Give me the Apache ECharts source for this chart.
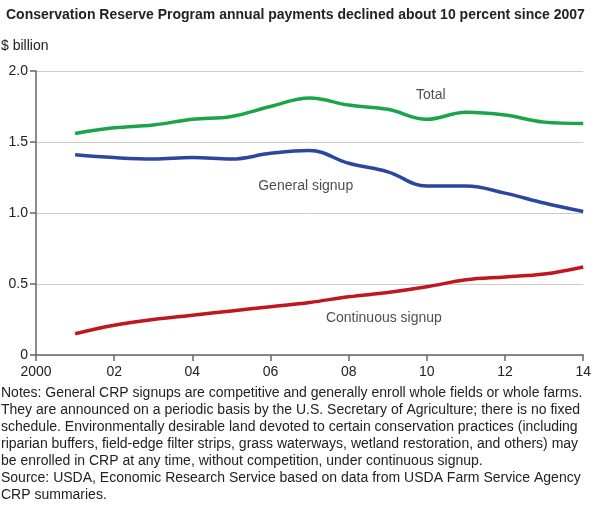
<!DOCTYPE html>
<html><head><meta charset="utf-8">
<script src="https://cdn.jsdelivr.net/npm/echarts@6/dist/echarts.min.js"></script>
<style>body{margin:0;background:#fff}#c{width:594px;height:526px}</style>
</head><body><div id="c"></div>
<script>
var years = [2001,2002,2003,2004,2005,2006,2007,2008,2009,2010,2011,2012,2013,2014];
var total = [1.56,1.60,1.62,1.66,1.68,1.75,1.81,1.76,1.73,1.66,1.71,1.69,1.64,1.63];
var general = [1.41,1.39,1.38,1.39,1.38,1.42,1.44,1.35,1.29,1.19,1.19,1.14,1.07,1.01];
var continuous = [0.15,0.21,0.25,0.28,0.31,0.34,0.37,0.41,0.44,0.48,0.53,0.55,0.57,0.62];
var notes = 'Notes: General CRP signups are competitive and generally enroll whole fields or whole farms.\nThey are announced on a periodic basis by the U.S. Secretary of Agriculture; there is no fixed\nschedule. Environmentally desirable land devoted to certain conservation practices (including\nriparian buffers, field-edge filter strips, grass waterways, wetland restoration, and others) may\nbe enrolled in CRP at any time, without competition, under continuous signup.';
var source = 'Source: USDA, Economic Research Service based on data from USDA Farm Service Agency\nCRP summaries.';
function pts(a){return years.map(function(y,i){return [y,a[i]];});}
var font = 'Liberation Sans, Arial, sans-serif';
var chart = echarts.init(document.getElementById('c'));
chart.setOption({
  animation:false,
  textStyle:{fontFamily:font},
  title:{text:'Conservation Reserve Program annual payments declined about 10 percent since 2007',left:1,top:3,
    textStyle:{fontSize:14,fontWeight:'bold',color:'#222',fontFamily:font}},
  graphic:[
    {type:'text',left:1,top:39,style:{text:'$ billion',fontSize:14,fill:'#222',fontFamily:font}},
    {type:'text',left:1,top:385,style:{text:notes,fontSize:14,lineHeight:17,fill:'#222',fontFamily:font}},
    {type:'text',left:1,top:470,style:{text:source,fontSize:14,lineHeight:17,fill:'#222',fontFamily:font}}
  ],
  grid:{left:36,right:8,top:71,bottom:171},
  xAxis:{type:'value',min:2000,max:2014,interval:2,
    axisLine:{lineStyle:{color:'#666',width:1.5}},
    axisTick:{length:6,lineStyle:{color:'#666',width:1.5}},
    splitLine:{show:false},
    axisLabel:{color:'#222',fontSize:14,margin:10,formatter:function(v){return v===2000?'2000':String(v-2000).padStart(2,'0');}}},
  yAxis:{type:'value',min:0,max:2,interval:0.5,
    axisLine:{show:true,lineStyle:{color:'#666',width:1.5}},
    axisTick:{show:true,length:6,lineStyle:{color:'#666',width:1.5}},
    splitLine:{lineStyle:{color:'#ccc',width:1}},
    axisLabel:{color:'#222',fontSize:14,margin:8,formatter:function(v){return v===0?'0':v.toFixed(1);}}},
  series:[
    {type:'line',name:'Total',data:pts(total),smooth:0.4,symbol:'none',lineStyle:{color:'#1aa54b',width:3.5}},
    {type:'line',name:'General signup',data:pts(general),smooth:0.4,symbol:'none',lineStyle:{color:'#2a46a0',width:3.5}},
    {type:'line',name:'Continuous signup',data:pts(continuous),smooth:0.4,symbol:'none',lineStyle:{color:'#c0161e',width:3.5}},
    {type:'scatter',data:[{value:[2010.1,1.83],name:'Total'},{value:[2006.9,1.19],name:'General signup'},{value:[2008.9,0.26],name:'Continuous signup'}],
      symbolSize:0,label:{show:true,formatter:'{b}',position:'inside',color:'#222',fontSize:14}}
  ]
});
</script></body></html>
